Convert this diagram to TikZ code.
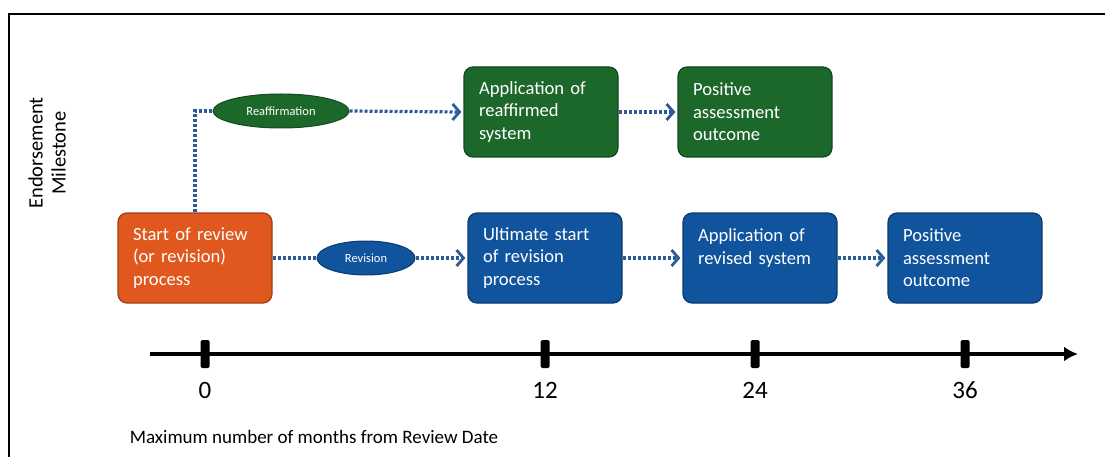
\documentclass[tikz,border=0pt]{standalone}
\usepackage{fontspec}
\setmainfont{Carlito}
\usetikzlibrary{shapes.geometric,arrows.meta}

\definecolor{reviewOrange}{RGB}{224,88,30}
\definecolor{reaffGreen}{RGB}{28,104,42}
\definecolor{reviseBlue}{RGB}{16,84,158}
\definecolor{flowBlue}{RGB}{44,92,150}

\begin{document}
\begin{tikzpicture}[x=1pt, y=-1pt,
    stagebox/.style={draw=#1!70!black, fill=#1, line width=1.2pt,
        rounded corners=9pt, minimum width=154pt, minimum height=90pt,
        text width=124pt, inner sep=0pt, align=left, text=white,
        font=\fontsize{18.6}{22.5}\selectfont},
    phase/.style={ellipse, draw=#1!70!black, fill=#1, line width=1pt,
        minimum height=34pt, inner sep=0pt, text=white,
        font=\fontsize{12.5}{14}\selectfont},
    flow/.style={draw=flowBlue, line width=3.2pt, dash pattern=on 3pt off 2pt},
    flowarrow/.style={flow, -{Straight Barb[length=7pt, width=16pt, line width=2.8pt, color=flowBlue]}},
    tickmark/.style={fill=black, minimum width=9pt, minimum height=28pt,
        inner sep=0pt, rounded corners=1.5pt},
    ticklabel/.style={font=\fontsize{25}{27}\selectfont}]

    \useasboundingbox (0, 0) rectangle (1105, 457);

    % Frame
    \draw [line width=2.2pt] (9, 457) -- (9, 14) -- (1105, 14);

    % Vertical title
    \node (milestone) at (47, 153) [rotate=90, align=center,
        font=\fontsize{20.5}{23}\selectfont] {Endorsement\\Milestone};

    % Row 1: reaffirmation
    %% Stages
    \node (reaff) at (281, 111) [phase=reaffGreen, minimum width=136pt] {Reaffirmation};
    \node (applyreaff) at (541, 112) [stagebox=reaffGreen] {Application of\\reaffirmed\\system};
    \node (posreaff) at (755, 112) [stagebox=reaffGreen] {Positive\\assessment\\outcome};

    % Row 2: revision
    %% Stages
    \node (start) at (195, 258) [stagebox=reviewOrange] {Start of review\\(or revision)\\process};
    \node (revision) at (366, 258) [phase=reviseBlue, minimum width=98pt] {Revision};
    \node (ultimate) at (545, 258) [stagebox=reviseBlue] {Ultimate start\\of revision\\process};
    \node (applyrev) at (760, 258) [stagebox=reviseBlue] {Application of\\revised system\\\mbox{}};
    \node (posrev) at (965, 258) [stagebox=reviseBlue] {Positive\\assessment\\outcome};

    %% Flow
    \draw [flow] (start.north) |- (reaff.west);
    \draw [flowarrow] (reaff.east) -- ([xshift=-2pt]applyreaff.west);
    \draw [flowarrow] (applyreaff.east) -- ([xshift=-2pt]posreaff.west);
    \draw [flow] (start.east) -- (revision.west);
    \draw [flowarrow] (revision.east) -- ([xshift=-2pt]ultimate.west);
    \draw [flowarrow] (ultimate.east) -- ([xshift=-2pt]applyrev.west);
    \draw [flowarrow] (applyrev.east) -- ([xshift=-2pt]posrev.west);

    % Time axis
    \coordinate (axisstart) at (150, 354);
    \coordinate (axisend) at (1078, 354);
    \draw [line width=4pt, -{Latex[length=14pt, width=15pt]}] (axisstart) -- (axisend);

    %% Ticks and months
    \node (tick0) at (205, 354) [tickmark] {};
    \node (tick12) at (545, 354) [tickmark] {};
    \node (tick24) at (755, 354) [tickmark] {};
    \node (tick36) at (965, 354) [tickmark] {};

    \node (month0) at (205, 390) [ticklabel] {0};
    \node (month12) at (545, 390) [ticklabel] {12};
    \node (month24) at (755, 390) [ticklabel] {24};
    \node (month36) at (965, 390) [ticklabel] {36};

    %% Axis title
    \node (axistitle) at (314, 437) [font=\fontsize{19}{21}\selectfont]
        {Maximum number of months from Review Date};
\end{tikzpicture}
\end{document}
